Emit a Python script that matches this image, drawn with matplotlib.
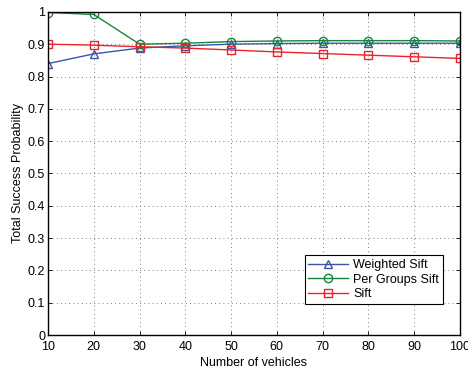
import matplotlib

matplotlib.use("Agg")
import matplotlib.pyplot as plt

vehicles = [10, 20, 30, 40, 50, 60, 70, 80, 90, 100]
weighted_sift = [0.840, 0.870, 0.888, 0.895, 0.900, 0.902, 0.903, 0.903, 0.903, 0.903]
per_groups_sift = [0.998, 0.992, 0.900, 0.903, 0.908, 0.910, 0.911, 0.911, 0.911, 0.910]
sift = [0.900, 0.897, 0.892, 0.888, 0.882, 0.876, 0.871, 0.866, 0.861, 0.856]

y_ticks = [0, 0.1, 0.2, 0.3, 0.4, 0.5, 0.6, 0.7, 0.8, 0.9, 1]
y_labels = ["0", "0.1", "0.2", "0.3", "0.4", "0.5", "0.6", "0.7", "0.8", "0.9", "1"]

plt.rcParams["font.family"] = ["Liberation Sans", "DejaVu Sans"]
plt.rcParams["font.size"] = 9

fig = plt.figure(figsize=(4.68, 3.71), dpi=100)
ax = fig.add_axes([0.1026, 0.097, 0.880, 0.871])

ax.plot(vehicles, weighted_sift, color="#3b55a8", marker="^", markersize=6,
        markerfacecolor="none", linewidth=1.0, label="Weighted Sift")
ax.plot(vehicles, per_groups_sift, color="#14873a", marker="o", markersize=6,
        markerfacecolor="none", linewidth=1.0, label="Per Groups Sift")
ax.plot(vehicles, sift, color="#e8232a", marker="s", markersize=5.5,
        markerfacecolor="none", linewidth=1.0, label="Sift")

ax.set_xlim(10, 100)
ax.set_ylim(0, 1)
ax.set_xticks(vehicles)
ax.set_yticks(y_ticks)
ax.set_yticklabels(y_labels)
ax.tick_params(direction="in", length=3, width=0.6, top=True, right=True, pad=2)
ax.tick_params(axis="x", pad=4)
ax.grid(True, linestyle=(0, (1, 4)), color="#555555", linewidth=0.6)
for s in ax.spines.values():
    s.set_linewidth(1.0)

ax.set_xlabel("Number of vehicles", labelpad=3)
ax.set_ylabel("Total Success Probability", labelpad=3)

leg = ax.legend(loc="lower right", bbox_to_anchor=(0.959, 0.096), fancybox=False,
                framealpha=1, edgecolor="black", handlelength=3.2, borderpad=0.3,
                labelspacing=0.2, handletextpad=0.4, borderaxespad=0)
leg.get_frame().set_linewidth(0.8)

fig.savefig("out.png", dpi=100)
